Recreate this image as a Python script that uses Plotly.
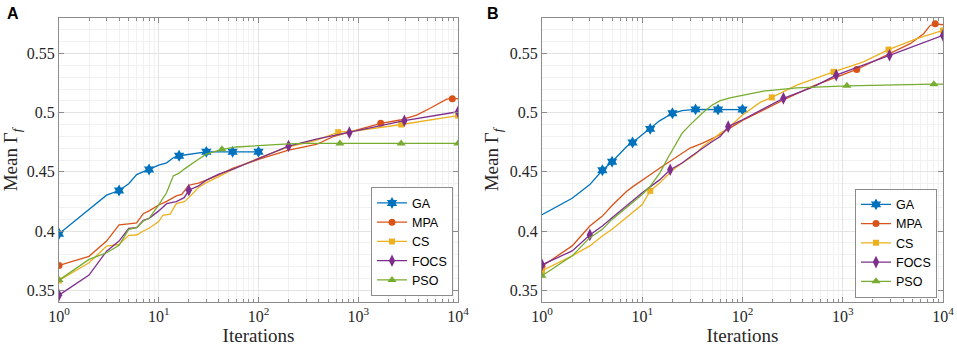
import plotly.graph_objects as go

# ---------------- data ----------------
series_names = ["GA", "MPA", "CS", "FOCS", "PSO"]

# Panel A
A_GA_x = [1, 2, 3, 4, 5, 6, 7, 8, 10, 12, 14, 16, 20, 25, 30, 40, 55, 70, 100]
A_GA_y = [0.3977, 0.418, 0.4303, 0.4342, 0.4400, 0.4477, 0.4500, 0.4520, 0.4557, 0.4576,
          0.4619, 0.4636, 0.4647, 0.4660, 0.4669, 0.4669, 0.4669, 0.4669, 0.4669]
A_GA_mk = [1, 4, 8, 16, 30, 55, 100]

A_MPA_x = [1, 2, 3, 4, 5, 6, 7, 8, 10, 12, 15, 17, 20, 25, 30, 40, 55, 100, 200, 380, 560,
           1000, 1680, 2630, 3850, 5250, 6600, 7700, 8770, 10000]
A_MPA_y = [0.3709, 0.3786, 0.3915, 0.4051, 0.4060, 0.4068, 0.4146, 0.4170, 0.4220, 0.4250,
           0.4297, 0.4310, 0.4387, 0.4405, 0.4430, 0.4473, 0.4530, 0.4605, 0.4684, 0.4731,
           0.4797, 0.4859, 0.4910, 0.4938, 0.4980, 0.5037, 0.5080, 0.5115, 0.5118, 0.5118]
A_MPA_mk = [1, 1680, 8770]

A_CS_x = [1, 2, 3, 4, 5, 6, 7, 8, 10, 11, 13, 15, 18, 20, 25, 30, 40, 55, 100, 200, 380,
          630, 1000, 2700, 10000]
A_CS_y = [0.3582, 0.3731, 0.3873, 0.3887, 0.3963, 0.3966, 0.4000, 0.4023, 0.4079, 0.4133,
          0.4142, 0.4231, 0.4248, 0.4282, 0.4367, 0.4409, 0.4460, 0.4520, 0.4615, 0.4710,
          0.4765, 0.4835, 0.4848, 0.4900, 0.4975]
A_CS_mk = [1, 630, 2700, 10000]

A_FOCS_x = [1, 2, 3, 4, 5, 6, 7, 8, 10, 12, 15, 18, 20, 25, 30, 40, 55, 100, 200, 380, 815,
            1000, 2900, 10000]
A_FOCS_y = [0.3458, 0.3627, 0.3830, 0.3915, 0.4023, 0.4028, 0.4090, 0.4107, 0.4170, 0.4231,
            0.4248, 0.4282, 0.4345, 0.4381, 0.4430, 0.4480, 0.4520, 0.4610, 0.4718, 0.4777,
            0.4831, 0.4850, 0.4932, 0.5008]
A_FOCS_mk = [1, 20, 200, 815, 2900, 10000]

A_PSO_x = [1, 2, 3, 4, 5, 6, 7, 8, 10, 12, 14, 16, 18, 20, 25, 30, 35, 43, 60, 100, 200, 300,
           655, 2690, 10000]
A_PSO_y = [0.3585, 0.3760, 0.3816, 0.3879, 0.4014, 0.4028, 0.4085, 0.4107, 0.4220, 0.4325,
           0.4466, 0.4489, 0.4523, 0.4551, 0.4607, 0.4649, 0.4665, 0.4690, 0.4710, 0.4723,
           0.4737, 0.4740, 0.4740, 0.4740, 0.4740]
A_PSO_mk = [1, 43, 655, 2690, 10000]

# Panel B
B_GA_x = [1, 2, 3, 4, 5, 6, 7, 8, 10, 12, 15, 20, 25, 34, 57, 100]
B_GA_y = [0.4138, 0.4277, 0.4392, 0.4513, 0.4586, 0.4659, 0.4714, 0.4748, 0.4813, 0.4863,
          0.4933, 0.4995, 0.5017, 0.5028, 0.5026, 0.5026]
B_GA_mk = [4, 5, 8, 12, 20, 34, 57, 100]

B_MPA_x = [1, 2, 3, 4, 5, 6, 7, 8, 10, 12, 15, 20, 25, 30, 40, 50, 60, 70, 100, 256, 510,
           1380, 2970, 4710, 6400, 7450, 8360, 10000]
B_MPA_y = [0.3702, 0.3874, 0.4042, 0.4126, 0.4216, 0.4281, 0.4336, 0.4373, 0.4434, 0.4476,
           0.4533, 0.4603, 0.4659, 0.4701, 0.4743, 0.4785, 0.4813, 0.4855, 0.4935, 0.5107,
           0.5227, 0.5365, 0.5499, 0.5583, 0.5667, 0.5737, 0.5751, 0.5743]
B_MPA_mk = [1, 1380, 8360]

B_CS_x = [1, 2, 3, 4, 5, 6, 8, 10, 12, 15, 20, 25, 30, 35, 40, 50, 60, 70, 100, 150, 196,
          348, 808, 1610, 2860, 5480, 10000]
B_CS_y = [0.3664, 0.3790, 0.3874, 0.3958, 0.4014, 0.4070, 0.4155, 0.4224, 0.4339, 0.4407,
          0.4513, 0.4575, 0.4617, 0.4659, 0.4714, 0.4771, 0.4827, 0.4860, 0.4980, 0.5087,
          0.5129, 0.5233, 0.5345, 0.5429, 0.5533, 0.5625, 0.5695]
B_CS_mk = [1, 12, 196, 808, 2860, 10000]

B_FOCS_x = [1, 2, 3, 4, 5, 6, 8, 10, 12, 15, 19, 25, 30, 40, 50, 60, 72, 100, 256, 510, 860,
            2925, 10000]
B_FOCS_y = [0.3714, 0.3832, 0.3967, 0.4042, 0.4112, 0.4168, 0.4261, 0.4323, 0.4373, 0.4434,
            0.4518, 0.4575, 0.4625, 0.4701, 0.4756, 0.4798, 0.4882, 0.4940, 0.5121, 0.5218,
            0.5317, 0.5485, 0.5653]
B_FOCS_mk = [1, 3, 19, 72, 256, 860, 2925, 10000]

B_PSO_x = [1, 2, 3, 4, 5, 6, 8, 10, 12, 15, 18, 20, 25, 30, 35, 40, 50, 60, 75, 100, 162, 348,
           1100, 8110, 10000]
B_PSO_y = [0.3622, 0.3790, 0.3944, 0.4014, 0.4098, 0.4155, 0.4239, 0.4308, 0.4378, 0.4491,
           0.4617, 0.4687, 0.4827, 0.4897, 0.4953, 0.5000, 0.5065, 0.5101, 0.5126, 0.5149,
           0.5182, 0.5210, 0.5227, 0.5241, 0.5241]
B_PSO_mk = [1, 1100, 8110]

x_tick_vals = [1, 10, 100, 1000, 10000]
x_tick_text = ["10<sup>0</sup>", "10<sup>1</sup>", "10<sup>2</sup>", "10<sup>3</sup>", "10<sup>4</sup>"]
y_tick_vals = [0.35, 0.40, 0.45, 0.50, 0.55]
y_tick_text = ["0.35", "0.4", "0.45", "0.5", "0.55"]
panel_labels = ["A", "B"]

# ---------------- styling ----------------
colors = {"GA": "#0072BD", "MPA": "#D95319", "CS": "#EDB120", "FOCS": "#7E2F8E", "PSO": "#77AC30"}
symbols = {"GA": "hexagram", "MPA": "circle", "CS": "square", "FOCS": "diamond-tall", "PSO": "triangle-up"}
msizes = {"GA": 9, "MPA": 7, "CS": 6, "FOCS": 9, "PSO": 8}

panels = [
    {"GA": (A_GA_x, A_GA_y, A_GA_mk), "MPA": (A_MPA_x, A_MPA_y, A_MPA_mk),
     "CS": (A_CS_x, A_CS_y, A_CS_mk), "FOCS": (A_FOCS_x, A_FOCS_y, A_FOCS_mk),
     "PSO": (A_PSO_x, A_PSO_y, A_PSO_mk)},
    {"GA": (B_GA_x, B_GA_y, B_GA_mk), "MPA": (B_MPA_x, B_MPA_y, B_MPA_mk),
     "CS": (B_CS_x, B_CS_y, B_CS_mk), "FOCS": (B_FOCS_x, B_FOCS_y, B_FOCS_mk),
     "PSO": (B_PSO_x, B_PSO_y, B_PSO_mk)},
]

fig = go.Figure()
axes = [("x", "y", "legend"), ("x2", "y2", "legend2")]

for p, data in enumerate(panels):
    xa, ya, lg = axes[p]
    for name in series_names:
        xs, ys, mk = data[name]
        c = colors[name]
        fig.add_trace(go.Scatter(x=xs, y=ys, mode="lines", xaxis=xa, yaxis=ya,
                                 line=dict(color=c, width=1.3), showlegend=False,
                                 hoverinfo="skip"))
        mx = [xv for xv in xs if xv in mk]
        my = [ys[xs.index(xv)] for xv in mx]
        fig.add_trace(go.Scatter(x=mx, y=my, mode="markers", xaxis=xa, yaxis=ya,
                                 marker=dict(color=c, symbol=symbols[name], size=msizes[name],
                                             line=dict(width=0)),
                                 showlegend=False))
    for name in series_names:
        c = colors[name]
        fig.add_trace(go.Scatter(x=[None], y=[None], mode="lines+markers", name=name,
                                 xaxis=xa, yaxis=ya, legend=lg,
                                 line=dict(color=c, width=1.3),
                                 marker=dict(color=c, symbol=symbols[name], size=msizes[name],
                                             line=dict(width=0))))

serif = "Liberation Serif"
grid_major = "#e3e3e3"
grid_minor = "#f1f1f1"
frame = "#8c8c8c"

def xaxis_cfg(domain, anchor):
    return dict(domain=domain, anchor=anchor, type="log", range=[0, 4], automargin=False,
                ticklabeloverflow="allow",
                tickvals=x_tick_vals, ticktext=x_tick_text,
                ticks="inside", ticklen=5, tickcolor=frame,
                showline=True, linecolor=frame, linewidth=1, mirror="ticks",
                showgrid=True, gridcolor=grid_major, gridwidth=1, zeroline=False,
                minor=dict(dtick="D1", ticks="inside", ticklen=3, tickcolor=frame,
                           showgrid=True, gridcolor=grid_minor, gridwidth=1),
                tickfont=dict(family=serif, size=16, color="#262626"),
                title=dict(text="Iterations", font=dict(family=serif, size=19, color="#262626"),
                           standoff=2))

def yaxis_cfg(anchor):
    return dict(domain=[0, 1], anchor=anchor, range=[0.34, 0.58], automargin=False,
                ticklabeloverflow="allow",
                tickvals=y_tick_vals, ticktext=y_tick_text,
                ticks="inside", ticklen=5, tickcolor=frame,
                showline=True, linecolor=frame, linewidth=1, mirror="ticks",
                showgrid=True, gridcolor=grid_major, gridwidth=1, zeroline=False,
                minor=dict(dtick=0.01, tick0=0.34, ticks="", showgrid=True,
                           gridcolor=grid_minor, gridwidth=1),
                tickfont=dict(family=serif, size=16, color="#262626"),
                title=dict(text="Mean \u0393<sub><i>f</i></sub>",
                           font=dict(family=serif, size=19, color="#262626"), standoff=6))

L, R, T, B = 59, 14, 18, 45
W, H = 957, 347
pw = W - L - R
dA = [0, (458 - L) / pw]
dB = [(542 - L) / pw, 1]

legend_common = dict(bgcolor="white", bordercolor="#8c8c8c", borderwidth=1,
                     font=dict(family="Liberation Sans", size=12.5, color="#000000"),
                     xanchor="right", yanchor="bottom", tracegroupgap=0,
                     itemclick=False, itemdoubleclick=False)

fig.update_layout(
    width=W, height=H, margin=dict(l=L, r=R, t=T, b=B),
    paper_bgcolor="white", plot_bgcolor="white",
    xaxis=xaxis_cfg(dA, "y"), yaxis=yaxis_cfg("x"),
    xaxis2=xaxis_cfg(dB, "y2"), yaxis2=yaxis_cfg("x2"),
    legend=dict(x=(453 - L) / pw, y=0.02, **legend_common),
    legend2=dict(x=(937 - L) / pw, y=0.015, **legend_common),
    showlegend=True,
)

for i, lab in enumerate(panel_labels):
    fig.add_annotation(text="<b>%s</b>" % lab, xref="paper", yref="paper",
                       x=(5 + 480 * i - L) / pw, y=(H - B - 3) / (H - B - T),
                       xanchor="left", yanchor="top", showarrow=False,
                       font=dict(family="Liberation Sans", size=16, color="black"))

fig.write_html("out.html", config={"displayModeBar": False},
               post_script="document.body.style.margin='0';document.body.style.overflow='hidden';")
